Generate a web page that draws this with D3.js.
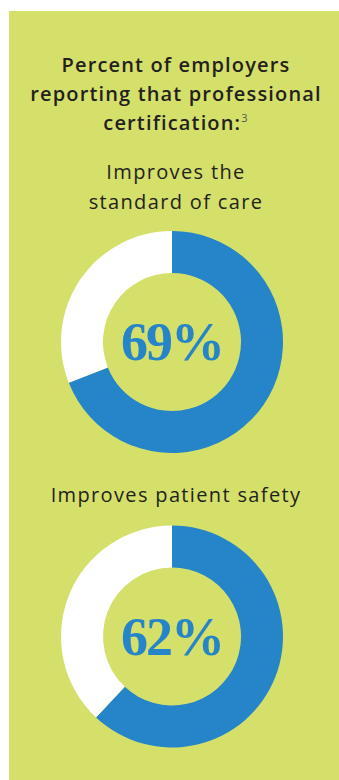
<!DOCTYPE html>
<html>
<head>
<meta charset="utf-8">
<script src="https://cdn.jsdelivr.net/npm/d3@7"></script>
<style>
  html, body { margin: 0; padding: 0; background: #ffffff; }
  svg { display: block; }
</style>
</head>
<body>
<svg id="chart" width="339" height="780"></svg>
<script>
// Survey results: share of employers agreeing with each statement
const titleLines = ["Percent of employers", "reporting that professional", "certification:"];
const footnote = "3";
const labels = [["Improves the", "standard of care"], ["Improves patient safety"]];
const values = [69, 62];

const colors = { panel: "#d5e06a", fill: "#2585c8", rest: "#ffffff", text: "#231f20" };

const svg = d3.select("#chart");
const W = 339, H = 780;

// green panel
svg.append("rect")
  .attr("x", 9).attr("y", 11)
  .attr("width", W - 9).attr("height", H - 11)
  .attr("fill", colors.panel);

// title
const title = svg.append("text")
  .attr("text-anchor", "middle")
  .attr("font-family", "'Open Sans', sans-serif")
  .attr("font-weight", 600)
  .attr("font-size", 20)
  .attr("letter-spacing", 1.15)
  .attr("fill", colors.text);
titleLines.forEach((line, i) => {
  title.append("tspan")
    .attr("x", 176)
    .attr("y", 72 + i * 29)
    .text(line);
  if (i === titleLines.length - 1) {
    title.append("tspan")
      .attr("font-size", 11)
      .attr("font-weight", 400)
      .attr("dy", -8)
      .attr("fill", "#555")
      .text(footnote);
  }
});

// layout of each donut block
const blocks = [
  { labelY: [179, 209], cy: 342 },
  { labelY: [502], cy: 636.5 }
];

const outerR = 111, innerR = 69;
const pie = d3.pie().sort(null).value(d => d.v);
const arc = d3.arc().innerRadius(innerR).outerRadius(outerR);

values.forEach((v, i) => {
  const b = blocks[i];

  const lab = svg.append("text")
    .attr("text-anchor", "middle")
    .attr("font-family", "'Open Sans', sans-serif")
    .attr("font-weight", 400)
    .attr("font-size", 20)
    .attr("letter-spacing", 1.35)
    .attr("fill", colors.text);
  labels[i].forEach((line, j) => {
    lab.append("tspan").attr("x", 176).attr("y", b.labelY[j]).text(line);
  });

  const g = svg.append("g").attr("transform", `translate(172,${b.cy})`);
  const data = pie([{ k: "yes", v: v }, { k: "other", v: 100 - v }]);
  g.selectAll("path")
    .data(data)
    .join("path")
    .attr("d", arc)
    .attr("fill", d => d.data.k === "yes" ? colors.fill : colors.rest);

  g.append("text")
    .attr("text-anchor", "middle")
    .attr("y", 18)
    .attr("font-family", "'Palatino Linotype', 'Book Antiqua', Palatino, 'Liberation Serif', serif")
    .attr("font-weight", 700)
    .attr("font-size", 54)
    .attr("letter-spacing", -2)
    .attr("fill", colors.fill)
    .text(v + "%");
});
</script>
</body>
</html>
